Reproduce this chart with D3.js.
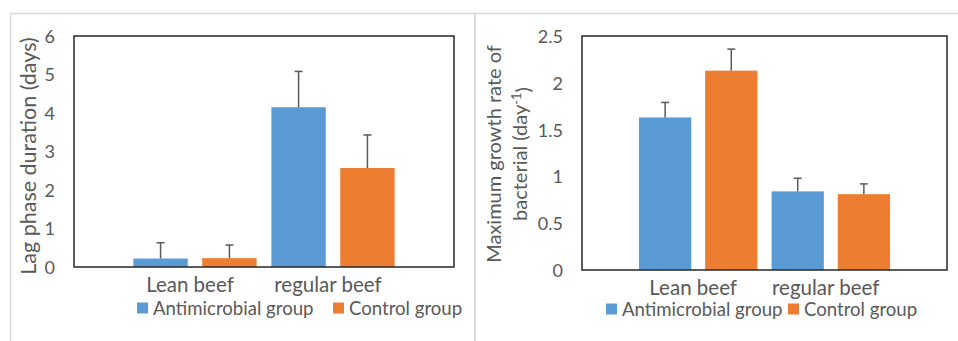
<!DOCTYPE html>
<html><head><meta charset="utf-8">
<script src="https://cdn.jsdelivr.net/npm/d3@7"></script>
<style>body{margin:0;background:#fff}svg{display:block}text{font-family:Lato,"Open Sans",sans-serif;fill:#595959}</style>
</head><body><svg id="c" width="958" height="341"></svg>
<script>
const categories = ["Lean beef", "regular beef"];
const seriesNames = ["Antimicrobial group", "Control group"];
const seriesColors = ["#5B9BD5", "#ED7D31"];
// Left chart: lag phase duration (days)
const lagMeans = [[0.22, 4.15], [0.23, 2.57]];
const lagErrors = [[0.41, 0.93], [0.34, 0.86]];
const lagTicks = [0, 1, 2, 3, 4, 5, 6];
// Right chart: maximum growth rate (day^-1)
const rateMeans = [[1.63, 0.84], [2.13, 0.81]];
const rateErrors = [[0.16, 0.14], [0.23, 0.11]];
const rateTicks = [0, 0.5, 1, 1.5, 2, 2.5];

const svg = d3.select("#c");
// panel frames
svg.append("line").attr("x1",10.5).attr("x2",10.5).attr("y1",13).attr("y2",341).attr("stroke","#d9d9d9").attr("stroke-width",1.5);
svg.append("line").attr("x1",10).attr("x2",958).attr("y1",13.5).attr("y2",13.5).attr("stroke","#d9d9d9").attr("stroke-width",1.5);
svg.append("line").attr("x1",475).attr("x2",475).attr("y1",13).attr("y2",341).attr("stroke","#d9d9d9").attr("stroke-width",2);

function drawChart(cfg) {
  const g = svg.append("g");
  const x0 = d3.scaleBand().domain(categories).range([cfg.x0, cfg.x1]).paddingInner(0.107).paddingOuter(0.43);
  const x1 = d3.scaleBand().domain(seriesNames).range([0, x0.bandwidth()]).paddingInner(0.21);
  const y = d3.scaleLinear().domain([0, cfg.max]).range([cfg.y1, cfg.y0]);

  const yAxis = d3.axisLeft(y).tickValues(cfg.ticks).tickSize(0).tickPadding(cfg.tickPad).tickFormat(d3.format("~g"));
  const ax = g.append("g").attr("transform", `translate(${cfg.x0},0)`).call(yAxis);
  ax.select(".domain").remove();
  ax.selectAll("text").style("font-size","18px").style("font-family","Lato").attr("fill","#595959").attr("dy","0.36em");

  categories.forEach((c, ci) => {
    seriesNames.forEach((s, si) => {
      const v = cfg.means[si][ci], e = cfg.errs[si][ci];
      const bx = x0(c) + x1(s), bw = x1.bandwidth();
      g.append("rect").attr("x", bx).attr("y", y(v)).attr("width", bw).attr("height", y(0) - y(v)).attr("fill", seriesColors[si]);
      const cx = bx + bw / 2;
      g.append("line").attr("x1", cx).attr("x2", cx).attr("y1", y(v)).attr("y2", y(v + e)).attr("stroke", "#595959").attr("stroke-width", 1.5);
      g.append("line").attr("x1", cx - 4).attr("x2", cx + 4).attr("y1", y(v + e)).attr("y2", y(v + e)).attr("stroke", "#595959").attr("stroke-width", 1.5);
    });
    g.append("text").attr("x", x0(c) + x0.bandwidth() / 2 - 5).attr("y", cfg.catY).attr("text-anchor", "middle").style("font-size", "20.5px").text(c);
  });

  g.append("rect").attr("x", cfg.x0).attr("y", cfg.y0).attr("width", cfg.x1 - cfg.x0).attr("height", cfg.y1 - cfg.y0)
    .attr("fill", "none").attr("stroke", "#262626").attr("stroke-width", 1.5);

  // legend
  cfg.legend.forEach((lx, i) => {
    g.append("rect").attr("x", lx).attr("y", cfg.legY - 5.5).attr("width", 11).attr("height", 11).attr("fill", seriesColors[i]);
    g.append("text").attr("x", lx + 16).attr("y", cfg.legY).attr("dy", "0.36em").style("font-size", "18.6px").text(seriesNames[i]);
  });

  // y title
  const t = g.append("text").attr("transform", `translate(${cfg.titleX},${cfg.titleY}) rotate(-90)`)
    .attr("text-anchor", "middle").style("font-size", cfg.titleSize);
  cfg.title(t, g);
}

drawChart({
  x0: 74, x1: 454, y0: 36, y1: 267, max: 6, ticks: lagTicks, tickPad: 19,
  means: lagMeans, errs: lagErrors, catY: 292, legY: 308, legend: [137, 333],
  titleX: 36, titleY: 156, titleSize: "21.5px",
  title: (t) => t.text("Lag phase duration (days)")
});

drawChart({
  x0: 582, x1: 947, y0: 36, y1: 270, max: 2.5, ticks: rateTicks, tickPad: 19,
  means: rateMeans, errs: rateErrors, catY: 295, legY: 309, legend: [606, 788],
  titleX: 501, titleY: 154, titleSize: "20px",
  title: (t, g) => {
    t.text("Maximum growth rate of");
    const t2 = g.append("text").attr("transform", "translate(527,154) rotate(-90)")
      .attr("text-anchor", "middle").style("font-size", "20px");
    t2.append("tspan").text("bacterial (day");
    t2.append("tspan").attr("dy", "-0.45em").style("font-size", "13px").text("-1");
    t2.append("tspan").attr("dy", "0.45em").text(")");
  }
});
</script></body></html>
